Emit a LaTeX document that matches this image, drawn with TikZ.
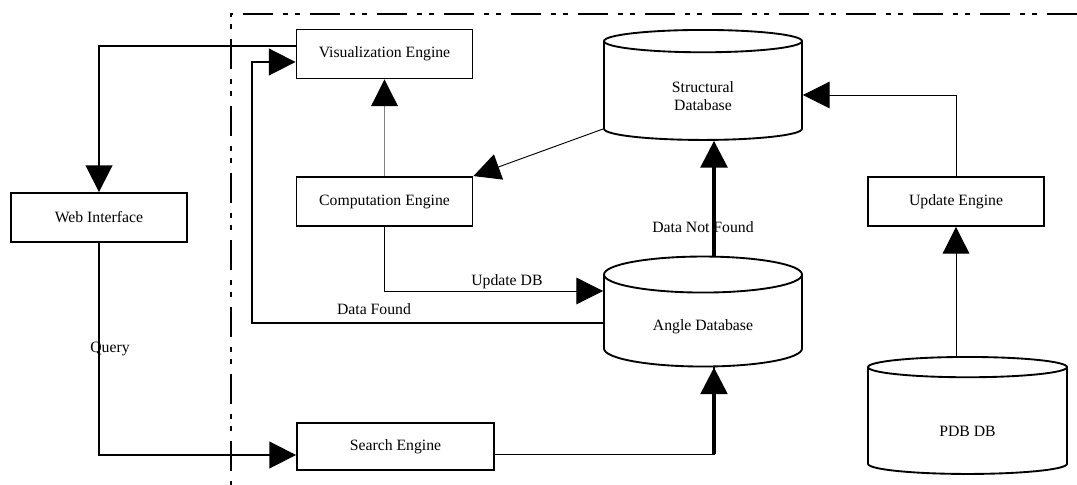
\documentclass[tikz,border=0pt]{standalone}
\usepackage{fontspec}
\setmainfont{Liberation Serif}
\usepackage{tikz}
\usetikzlibrary{calc,shapes.geometric,arrows.meta}

\newcommand{\dbtext}[2]{\raisebox{-#1}[\height][\depth]{\begin{tabular}{@{}c@{}}#2\end{tabular}}}

\tikzset{
  engine/.style={draw, line width=1.4pt, minimum width=132pt, minimum height=36.75pt, inner sep=0pt},
  dbase/.style={cylinder, shape border rotate=90, aspect=0.36, draw, line width=1.4pt,
    minimum width=148.5pt, minimum height=82.5pt, inner sep=0pt},
  conn/.style={line width=1.4pt, -{Triangle[length=20pt,width=20pt]}},
  thinconn/.style={line width=0.7pt, -{Triangle[length=20pt,width=20pt]}},
  boldconn/.style={line width=2.6pt, -{Triangle[length=20pt,width=20pt]}},
  lbl/.style={inner sep=1pt},
  boundary/.style={line width=1.6pt, dash pattern=on 22.5pt off 7.5pt on 3.75pt off 5.25pt on 3.75pt off 7.5pt}
}

\begin{document}
\begin{tikzpicture}[x=0.75pt, y=0.75pt, every node/.style={font=\fontsize{11.8}{13.5}\selectfont}]
  \useasboundingbox (0,0) rectangle (1077,485);

  % server side
  \draw[boundary] (1077,471) -- (231,471) -- (231,0);

  \node[engine] (viz) at (384.5,431) {Visualization Engine};
  \node[engine] (web) at (99,267.5) {Web Interface};
  \node[engine] (comp) at (384.5,283.5) {Computation Engine};
  \node[engine, minimum width=147.75pt, minimum height=35.25pt] (search) at (395.5,38.5) {Search Engine};
  \node[engine] (upd) at (956,283.5) {Update Engine};

  \node[dbase] (sdb) at (703,394) {\dbtext{5.25pt}{Structural\\Database}};
  \node[dbase] (adb) at (703,164) {\dbtext{4.25pt}{Angle Database}};
  \node[dbase, minimum width=149.25pt, minimum height=87.75pt] (pdb) at (967.5,64) {\dbtext{9pt}{PDB DB}};

  \draw[conn] ($(viz.west)+(0,8)$) -| (web.north);
  \draw[conn] ($(adb.west)+(0,-2)$) -| ($(viz.west)+(-44,-8)$) -- ($(viz.west)+(0,-8)$);
  \node[lbl] (datafound) at (374,176) {Data Found};
  \draw[thinconn, black!50, -{Triangle[length=20pt,width=20pt,color=black]}] (comp.north) -- (viz.south);
  \draw[thinconn] (comp.south) |- node[lbl, above, pos=0.78] {Update DB} ($(adb.west)+(0,30)$);
  \draw[thinconn] ($(sdb.west)+(0,-38)$) -- (comp.north east);
  \draw[boldconn] ($(adb.north)+(11,0)$) -- ($(sdb.south)+(11,0)$);
  \node[lbl] (notfound) at (703,258) {Data Not Found};
  \draw[thinconn] (upd.north) |- ($(sdb.east)+(0,-4)$);
  \draw[thinconn] (upd.south |- pdb.north) -- (upd.south);
  \draw[conn] (web.south) |- node[lbl, pos=0.25, xshift=8.25pt] {Query} ($(search.west)+(0,-8.5)$);
  \draw[line width=1.4pt] ($(search.east)+(0,-8)$) -| coordinate[pos=0.5] (sbend) ($(adb.south)+(11,0)$);
  \draw[boldconn] (sbend) -- ($(adb.south)+(11,0)$);
\end{tikzpicture}
\end{document}
